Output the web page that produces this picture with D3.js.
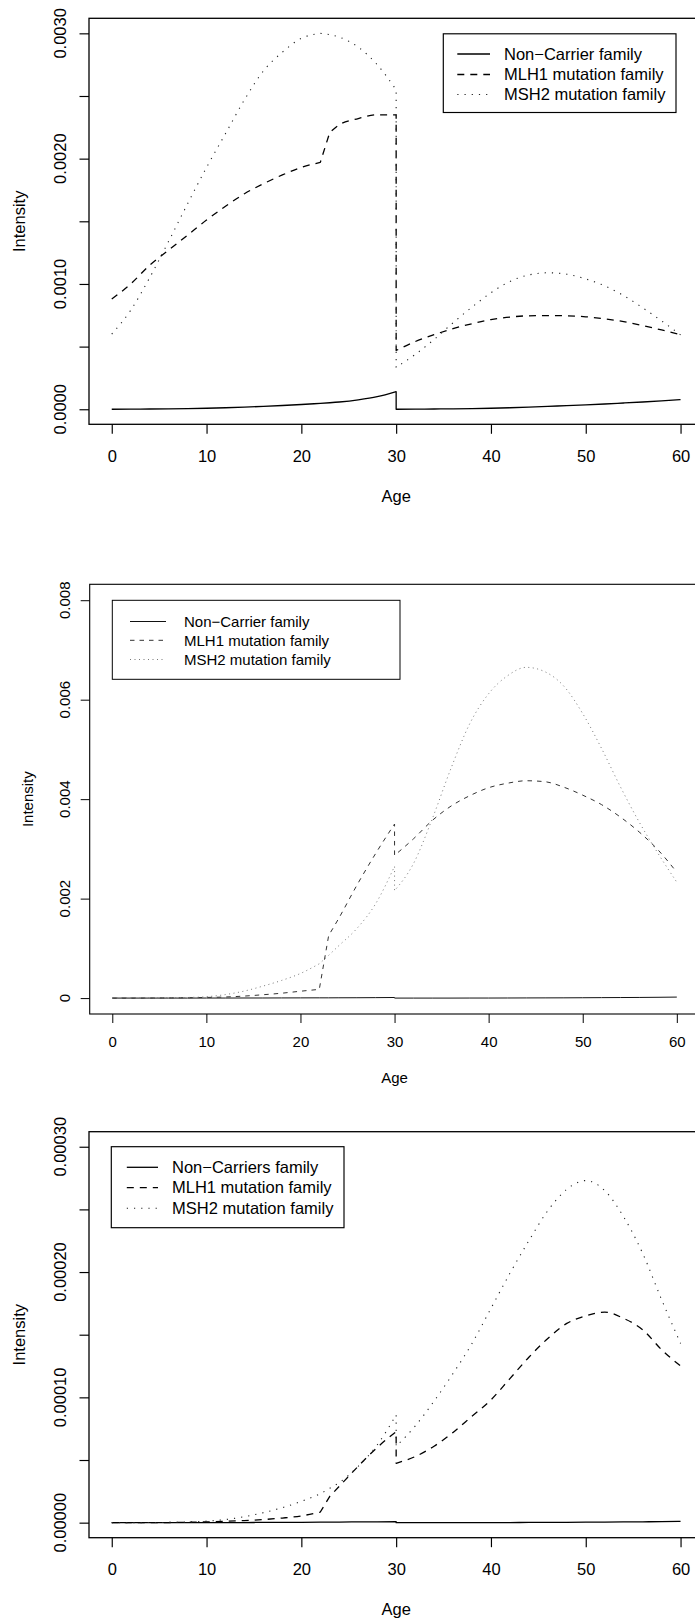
<!DOCTYPE html>
<html>
<head>
<meta charset="utf-8">
<script src="https://cdn.jsdelivr.net/npm/d3@7"></script>
<style>
  html, body { margin: 0; padding: 0; background: #fff; }
  svg { display: block; font-family: "Liberation Sans", Arial, Helvetica, sans-serif; }
</style>
</head>
<body>
<svg id="chart" width="695" height="1622"></svg>
<script>
// ---------------- data ----------------
const ages = [0,2,4,6,8,10,12,14,16,18,20,22, 23,24,26,28,30, 30,32,34,36,38,40,42,44,46,48,50,52,54,56,58,60];
// segments: [0..22], [23..30], [30..60] (joined by straight lines)
const segmentStarts = [0, 12, 17];

const xTicks = [0, 10, 20, 30, 40, 50, 60];
const xTickLabels = ["0", "10", "20", "30", "40", "50", "60"];

// Panel 1
const p1NonCarrier = [0,0.000001,0.000002,0.000003,0.000005,0.000008,0.000012,0.000017,0.000023,0.000030,0.000038,0.000047,
  0.000052,0.000058,0.000075,0.000100,0.000141,
  0,0.000001,0.000002,0.000003,0.000005,0.000008,0.000012,0.000017,0.000023,0.000029,0.000035,0.000042,0.000050,0.000058,0.000067,0.000077];
const p1MLH1 = [0.00088,0.00100,0.00115,0.00127,0.00139,0.00151,0.00162,0.00172,0.00180,0.00187,0.00193,0.00197,
  0.00221,0.00227,0.00232,0.00235,0.00235,
  0.000469,0.000540,0.000595,0.000643,0.000683,0.000716,0.000736,0.000746,0.000748,0.000746,0.000738,0.000722,0.000699,0.000668,0.000633,0.000596];
const p1MSH2 = [0.00060,0.00079,0.00105,0.00134,0.00164,0.00193,0.00220,0.00247,0.00270,0.00285,0.00296,0.00300,
  0.00299,0.00297,0.00289,0.00275,0.00255,
  0.000335,0.000437,0.000557,0.000690,0.000815,0.000930,0.001020,0.001072,0.001089,0.001078,0.001040,0.000985,0.000907,0.000810,0.000705,0.000594];
const p1YTicks = [0, 0.0005, 0.001, 0.0015, 0.002, 0.0025, 0.003];
const p1YLabelValues = [0, 0.001, 0.002, 0.003];
const p1YLabels = ["0.0000", "0.0010", "0.0020", "0.0030"];
const p1Legend = ["Non\u2212Carrier family", "MLH1 mutation family", "MSH2 mutation family"];

// Panel 2
const p2NonCarrier = [0,0,0,0,0,0.000001,0.000001,0.000002,0.000002,0.000003,0.000004,0.000005,
  0.000005,0.000006,0.000007,0.000009,0.000012,
  0,0,0,0,0.000001,0.000001,0.000002,0.000003,0.000004,0.000005,0.000007,0.000009,0.000011,0.000013,0.000016,0.00002];
const p2MLH1 = [0,0,0.000001,0.000003,0.000007,0.000013,0.000022,0.000040,0.000067,0.000098,0.000138,0.000175,
  0.00126,0.00158,0.00227,0.00291,0.00350,
  0.00287,0.00320,0.00357,0.00386,0.00407,0.00423,0.00432,0.00437,0.00435,0.00424,0.00408,0.00389,0.00364,0.00334,0.00298,0.00253];
const p2MSH2 = [0,0.000001,0.000003,0.000006,0.000012,0.000027,0.000070,0.000140,0.000240,0.000355,0.000495,0.000690,
  0.00086,0.00104,0.00140,0.00190,0.00265,
  0.00216,0.00270,0.00360,0.00462,0.00552,0.00612,0.00648,0.00665,0.00656,0.00627,0.00572,0.00502,0.00425,0.00354,0.00291,0.00233];
const p2YTicks = [0, 0.002, 0.004, 0.006, 0.008];
const p2YLabelValues = [0, 0.002, 0.004, 0.006, 0.008];
const p2YLabels = ["0", "0.002", "0.004", "0.006", "0.008"];
const p2Legend = ["Non\u2212Carrier family", "MLH1 mutation family", "MSH2 mutation family"];

// Panel 3
const p3NonCarrier = [0,0,0,0,0,0.0000001,0.0000001,0.0000001,0.0000002,0.0000002,0.0000003,0.0000004,
  0.0000004,0.0000005,0.0000006,0.0000007,0.0000009,
  0,0,0,0,0,0.0000001,0.0000001,0.0000002,0.0000002,0.0000003,0.0000004,0.0000005,0.0000006,0.0000007,0.0000008,0.000001];
const p3MLH1 = [0,0,0,0.0000001,0.0000003,0.0000006,0.0000011,0.0000017,0.0000025,0.0000037,0.0000054,0.0000085,
  0.000021,0.000029,0.000045,0.000060,0.0000726,
  0.0000474,0.0000527,0.000061,0.000072,0.000085,0.000098,0.000115,0.000132,0.000147,0.000159,0.000165,0.000168,0.000163,0.000154,0.000138,0.000125];
const p3MSH2 = [0,0,0.0000001,0.0000002,0.0000005,0.0000012,0.0000025,0.0000048,0.000008,0.000012,0.000017,0.000023,
  0.0000275,0.000032,0.000045,0.000062,0.000086,
  0.000061,0.000077,0.000097,0.000119,0.000143,0.000171,0.000199,0.000225,0.000249,0.000266,0.000273,0.000265,0.000244,0.000215,0.000178,0.000143];
const p3YTicks = [0, 0.00005, 0.0001, 0.00015, 0.0002, 0.00025, 0.0003];
const p3YLabelValues = [0, 0.0001, 0.0002, 0.0003];
const p3YLabels = ["0.00000", "0.00010", "0.00020", "0.00030"];
const p3Legend = ["Non\u2212Carriers family", "MLH1 mutation family", "MSH2 mutation family"];

// ---------------- layout / style ----------------
const panels = [
  {
    series: [p1NonCarrier, p1MLH1, p1MSH2], legend: p1Legend,
    yTicks: p1YTicks, yLabelValues: p1YLabelValues, yLabels: p1YLabels,
    yMax: 0.003,
    box: {left: 89, right: 703.3, top: 18.3, bottom: 424.3},
    font: 16.5, lws: [1.3, 1.3, 1.1], boxLw: 1.3, tick: 9.5,
    xLabelBase: 37.4, yLabelBase: 23, ylabX: 25, ageBase: 77.2,
    colors: ["#000", "#000", "#222"],
    dashes: [null, "7,6", "1.2,6"],
    legendBox: {x0: 443.3, x1: 676, y0: 33.8, y1: 112.5},
    legendLine: [457.3, 490], legendText: 504, legendRows: [54, 74.5, 94.5]
  },
  {
    series: [p2NonCarrier, p2MLH1, p2MSH2], legend: p2Legend,
    yTicks: p2YTicks, yLabelValues: p2YLabelValues, yLabels: p2YLabels,
    yMax: 0.008,
    box: {left: 89.7, right: 699.4, top: 584.3, bottom: 1014},
    font: 15, lws: [1, 1, 1], boxLw: 1.1, tick: 9,
    xLabelBase: 33.3, yLabelBase: 20.2, ylabX: 33, ageBase: 69,
    colors: ["#111", "#333", "#777"],
    dashes: [null, "4.5,5", "1,3.5"],
    legendBox: {x0: 112.3, x1: 400, y0: 600.3, y1: 679.3},
    legendLine: [130, 166], legendText: 184, legendRows: [621.5, 640.3, 659.5]
  },
  {
    series: [p3NonCarrier, p3MLH1, p3MSH2], legend: p3Legend,
    yTicks: p3YTicks, yLabelValues: p3YLabelValues, yLabels: p3YLabels,
    yMax: 0.0003,
    box: {left: 89, right: 703.3, top: 1131.7, bottom: 1537.7},
    font: 16.5, lws: [1.3, 1.3, 1.1], boxLw: 1.3, tick: 9.5,
    xLabelBase: 37.3, yLabelBase: 23, ylabX: 25, ageBase: 77.2,
    colors: ["#000", "#000", "#222"],
    dashes: [null, "7,6", "1.2,6"],
    legendBox: {x0: 111.3, x1: 344, y0: 1146.7, y1: 1227.7},
    legendLine: [126.8, 158], legendText: 172, legendRows: [1167.3, 1187.7, 1208.3]
  }
];

const svg = d3.select("#chart");

function buildPath(xs, ys, x, y) {
  const line = d3.line().x(d => x(d[0])).y(d => y(d[1])).curve(d3.curveMonotoneX);
  const pts = xs.map((a, i) => [a, ys[i]]);
  let out = "";
  segmentStarts.forEach((s, k) => {
    const e = k + 1 < segmentStarts.length ? segmentStarts[k + 1] : pts.length;
    const p = line(pts.slice(s, e));
    out += k === 0 ? p : p.replace(/^M/, "L");
  });
  return out;
}

panels.forEach(P => {
  const b = P.box;
  const x = d3.scaleLinear().domain([-2.4, 62.4]).range([b.left, b.right]);
  const ext = P.yMax * 0.04;
  const y = d3.scaleLinear().domain([-ext, P.yMax + ext]).range([b.bottom, b.top]);
  const g = svg.append("g");

  // x axis ticks
  const xa = g.append("g").attr("transform", `translate(0,${b.bottom})`)
    .call(d3.axisBottom(x).tickValues(xTicks).tickSize(P.tick).tickFormat((d, i) => xTickLabels[i]));
  xa.select(".domain").remove();
  xa.selectAll(".tick line").attr("stroke", "#000").attr("stroke-width", P.boxLw * 0.9);
  xa.selectAll(".tick text").attr("y", P.xLabelBase).attr("dy", null)
    .attr("fill", "#000").attr("font-size", P.font).attr("font-family", "Liberation Sans, Arial, sans-serif");

  // y axis ticks
  const ya = g.append("g").attr("transform", `translate(${b.left},0)`)
    .call(d3.axisLeft(y).tickValues(P.yTicks).tickSize(P.tick).tickFormat(""));
  ya.select(".domain").remove();
  ya.selectAll(".tick line").attr("stroke", "#000").attr("stroke-width", P.boxLw * 0.9);

  // y tick labels (rotated, R style)
  g.selectAll(".ylab").data(P.yLabelValues).enter().append("text")
    .attr("transform", d => `translate(${b.left - P.yLabelBase},${y(d)}) rotate(-90)`)
    .attr("text-anchor", "middle").attr("font-size", P.font).attr("fill", "#000")
    .text((d, i) => P.yLabels[i]);

  // axis titles
  g.append("text").attr("x", x(30)).attr("y", b.bottom + P.ageBase)
    .attr("text-anchor", "middle").attr("font-size", P.font).text("Age");
  g.append("text").attr("transform", `translate(${P.ylabX},${(b.top + b.bottom) / 2}) rotate(-90)`)
    .attr("text-anchor", "middle").attr("font-size", P.font).text("Intensity");

  // series
  P.series.forEach((vals, i) => {
    g.append("path").attr("d", buildPath(ages, vals, x, y))
      .attr("fill", "none").attr("stroke", P.colors[i]).attr("stroke-width", P.lws[i])
      .attr("stroke-dasharray", P.dashes[i]).attr("stroke-linejoin", "round");
  });

  // box
  g.append("rect").attr("x", b.left).attr("y", b.top)
    .attr("width", b.right - b.left).attr("height", b.bottom - b.top)
    .attr("fill", "none").attr("stroke", "#000").attr("stroke-width", P.boxLw);

  // legend
  const L = P.legendBox;
  g.append("rect").attr("x", L.x0).attr("y", L.y0).attr("width", L.x1 - L.x0).attr("height", L.y1 - L.y0)
    .attr("fill", "#fff").attr("stroke", "#000").attr("stroke-width", P.boxLw * 0.9);
  P.legend.forEach((lab, i) => {
    g.append("line").attr("x1", P.legendLine[0]).attr("x2", P.legendLine[1])
      .attr("y1", P.legendRows[i]).attr("y2", P.legendRows[i])
      .attr("stroke", P.colors[i]).attr("stroke-width", P.lws[i]).attr("stroke-dasharray", P.dashes[i]);
    g.append("text").attr("x", P.legendText).attr("y", P.legendRows[i]).attr("dy", "0.35em")
      .attr("font-size", P.font).attr("fill", "#000").text(lab);
  });
});
</script>
</body>
</html>
